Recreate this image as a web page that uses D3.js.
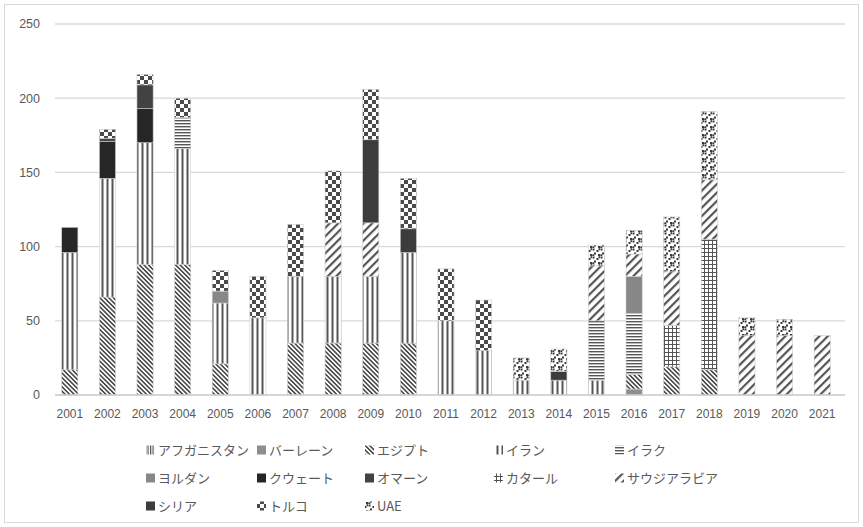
<!DOCTYPE html>
<html><head><meta charset="utf-8">
<script src="https://cdn.jsdelivr.net/npm/d3@7"></script>
<style>
html,body{margin:0;padding:0;background:#fff;}
svg{display:block;}
</style></head>
<body>
<svg id="chart" width="863" height="527"></svg>
<script>
const years = ["2001","2002","2003","2004","2005","2006","2007","2008","2009","2010","2011","2012","2013","2014","2015","2016","2017","2018","2019","2020","2021"];
const seriesNames = ["アフガニスタン","バーレーン","エジプト","イラン","イラク","ヨルダン","クウェート","オマーン","カタール","サウジアラビア","シリア","トルコ","UAE"];
const afghanistan = [0,0,0,0,0,0,0,0,0,0,0,0,0,0,0,0,0,0,0,0,0];
const bahrain     = [0,0,0,0,0,0,0,0,0,0,0,0,0,0,0,4,0,0,0,0,0];
const egypt       = [17,66,88,88,21,0,35,35,35,35,0,0,0,0,0,10,19,17,0,0,0];
const iran        = [79,80,82,78,41,52,45,45,45,61,50,30,10,10,10,0,0,0,0,0,0];
const iraq        = [0,0,0,21,0,0,0,0,0,0,0,0,0,0,40,41,0,0,0,0,0];
const jordan      = [0,0,0,0,8,0,0,0,0,0,0,0,0,0,0,25,0,0,0,0,0];
const kuwait      = [17,25,23,0,0,0,0,0,0,0,0,0,0,0,0,0,0,0,0,0,0];
const oman        = [0,2,16,0,0,0,0,0,0,0,0,0,0,0,0,0,0,0,0,0,0];
const qatar       = [0,0,0,0,0,0,0,0,0,0,0,0,0,0,0,0,28,88,0,0,0];
const saudi       = [0,0,0,0,0,0,0,36,36,0,0,0,0,0,37,15,36,40,40,40,40];
const syria       = [0,0,0,0,0,0,0,0,56,16,0,0,0,6,0,0,0,0,0,0,0];
const turkey      = [0,6,7,13,14,28,35,35,34,34,35,34,0,0,0,0,0,0,0,0,0];
const uae         = [0,0,0,0,0,0,0,0,0,0,0,0,15,15,14,16,37,46,12,11,0];
const yTicks = [0,50,100,150,200,250];

const seriesValues = [afghanistan,bahrain,egypt,iran,iraq,jordan,kuwait,oman,qatar,saudi,syria,turkey,uae];
const patternIds = ["p-afg","p-bah","p-egy","p-iran","p-iraq","p-jor","p-kuw","p-oman","p-qat","p-sau","p-syr","p-tur","p-uae"];

const svg = d3.select("#chart");
const W = 863, H = 527;

svg.append("rect").attr("x",4.5).attr("y",4.5).attr("width",W-9).attr("height",H-9)
  .attr("fill","#fff").attr("stroke","#d9d9d9").attr("stroke-width",1);

const defs = svg.append("defs");
const ink = "#555";
function pat(id,w,h,rot){
  const p = defs.append("pattern").attr("id",id).attr("patternUnits","userSpaceOnUse")
    .attr("width",w).attr("height",h);
  if (rot) p.attr("patternTransform",`rotate(${rot})`);
  p.append("rect").attr("width",w).attr("height",h).attr("fill","#fff");
  return p;
}
pat("p-afg",2.5,4).append("rect").attr("width",1.2).attr("height",4).attr("fill",ink);
pat("p-bah",4,4).append("rect").attr("width",4).attr("height",4).attr("fill","#8e8e8e");
pat("p-egy",3.2,3.2,-45).append("rect").attr("width",1.6).attr("height",3.2).attr("fill","#4a4a4a");
pat("p-iran",5,4).append("rect").attr("x",1.5).attr("width",2).attr("height",4).attr("fill",ink);
pat("p-iraq",4,3).append("rect").attr("width",4).attr("height",1.4).attr("fill",ink);
pat("p-jor",4,4).append("rect").attr("width",4).attr("height",4).attr("fill","#878787");
pat("p-kuw",4,4).append("rect").attr("width",4).attr("height",4).attr("fill","#262626");
pat("p-oman",4,4).append("rect").attr("width",4).attr("height",4).attr("fill","#424242");
{const p = pat("p-qat",4,4);
 p.append("rect").attr("width",1).attr("height",4).attr("fill",ink);
 p.append("rect").attr("width",4).attr("height",1).attr("fill",ink);}
pat("p-sau",6,6,45).append("rect").attr("width",2.2).attr("height",6).attr("fill",ink);
pat("p-syr",4,4).append("rect").attr("width",4).attr("height",4).attr("fill","#3c3c3c");
{const p = pat("p-tur",8,8);
 p.append("rect").attr("width",4).attr("height",4).attr("fill","#4a4a4a");
 p.append("rect").attr("x",4).attr("y",4).attr("width",4).attr("height",4).attr("fill","#4a4a4a");}
{const p = pat("p-uae",8,8);
 [[0.5,0.5],[4.5,2],[2,4.5],[6,6],[6.5,0.2],[0.3,6.3]].forEach(([px,py])=>{
   p.append("rect").attr("x",px).attr("y",py).attr("width",2).attr("height",2).attr("fill","#3a3a3a");
 });}

const x = d3.scaleBand().domain(years).range([51,841]).paddingInner(0.57).paddingOuter(0.285);
const y = d3.scaleLinear().domain([0,250]).range([395,24]);

svg.append("g").selectAll("line").data(yTicks.filter(t=>t>0)).join("line")
  .attr("x1",55).attr("x2",845).attr("y1",d=>y(d)).attr("y2",d=>y(d))
  .attr("stroke","#d9d9d9").attr("stroke-width",1.3);

svg.append("g").selectAll("text").data(yTicks).join("text")
  .attr("x",40).attr("y",d=>y(d)).attr("dy","0.35em").attr("text-anchor","end")
  .attr("font-family","Liberation Sans, Arial, sans-serif").attr("font-size",12.5)
  .attr("fill","#595959").text(d=>d);

const table = years.map((yr,i)=>{
  const o = {year: yr};
  seriesNames.forEach((n,j)=>{ o[n] = seriesValues[j][i]; });
  return o;
});
const stack = d3.stack().keys(seriesNames)(table);

const layers = svg.append("g").selectAll("g").data(stack).join("g")
  .attr("fill",(d,i)=>`url(#${patternIds[i]})`);
layers.selectAll("rect").data(d=>d.filter(v=>v[1]-v[0]>0)).join("rect")
  .attr("x",d=>x(d.data.year)).attr("width",x.bandwidth())
  .attr("y",d=>y(d[1])).attr("height",d=>y(d[0])-y(d[1]))
  .attr("stroke","#cfcfcf").attr("stroke-width",0.6);

svg.append("line").attr("x1",55).attr("x2",845).attr("y1",y(0)).attr("y2",y(0))
  .attr("stroke","#c8c8c8").attr("stroke-width",1.3);

svg.append("g").selectAll("text").data(years).join("text")
  .attr("x",d=>x(d)+x.bandwidth()/2).attr("y",418).attr("text-anchor","middle")
  .attr("font-family","Liberation Sans, Arial, sans-serif").attr("font-size",12)
  .attr("fill","#595959").text(d=>d);

const colX = [146,257,365,494,615];
const rowY = [450,478,506];
const lg = svg.append("g");
seriesNames.forEach((n,i)=>{
  const cx = colX[i%5], cy = rowY[Math.floor(i/5)];
  lg.append("rect").attr("x",cx).attr("y",cy-4.5).attr("width",9).attr("height",9)
    .attr("fill",`url(#${patternIds[i]})`);
  lg.append("text").attr("x",cx+12).attr("y",cy).attr("dy","0.36em")
    .attr("font-family","Noto Sans CJK JP, sans-serif").attr("font-size",13)
    .attr("fill","#595959").text(n);
});
</script>
</body></html>
